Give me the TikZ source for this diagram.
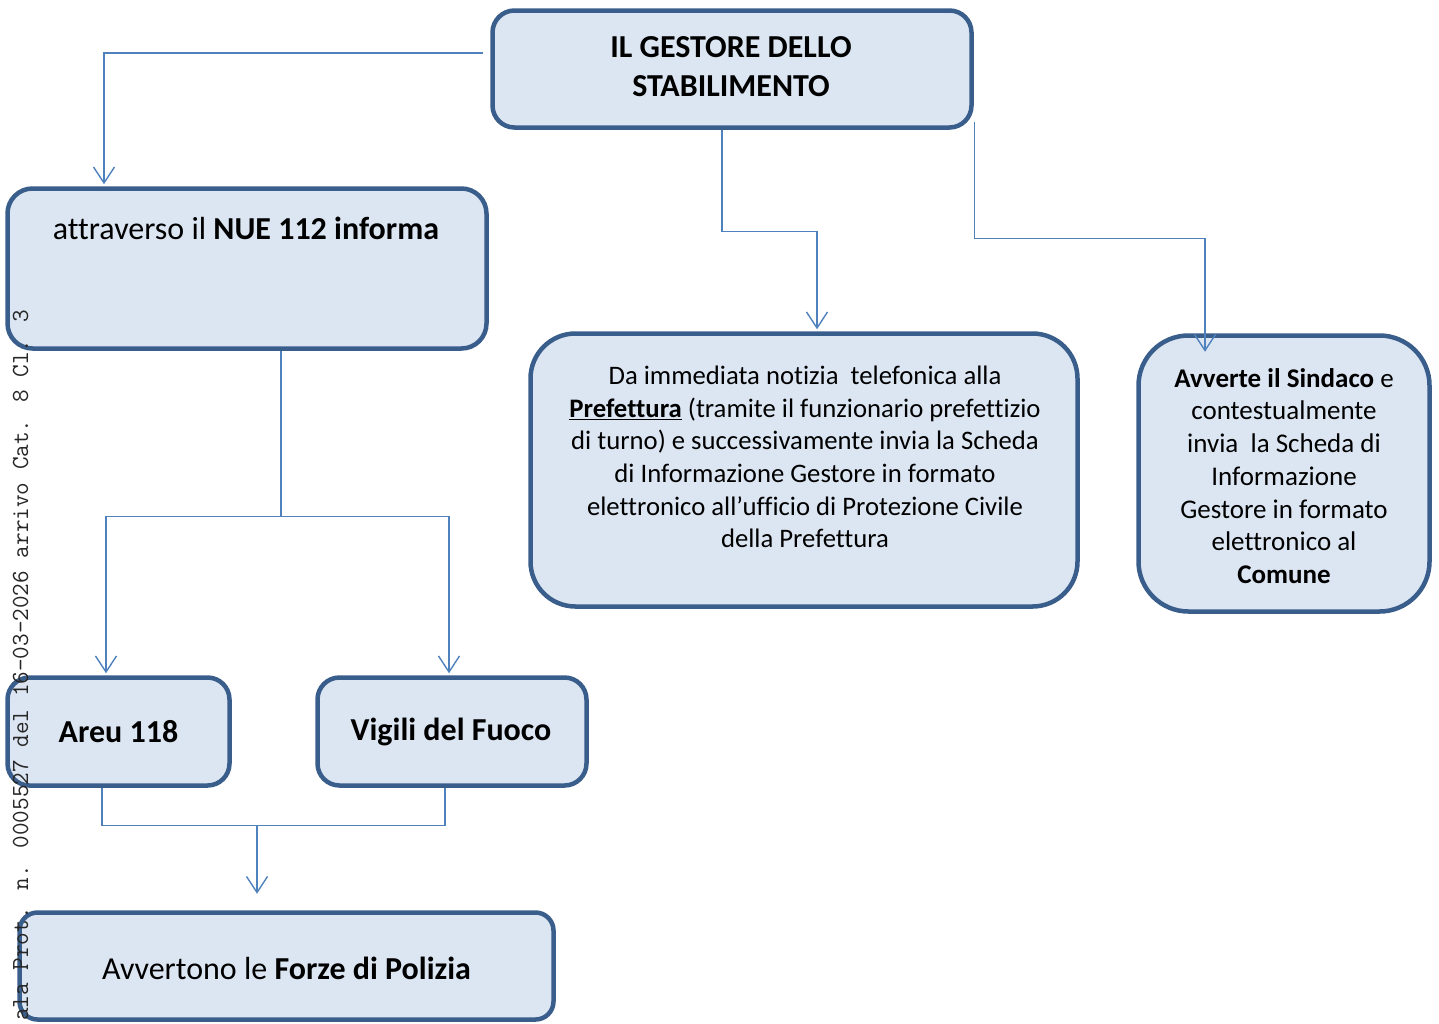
\documentclass[tikz,border=0pt]{standalone}
\usepackage{fontspec}
\setmainfont[Ligatures={NoCommon,TeX}]{Carlito}
\usetikzlibrary{arrows.meta}
\definecolor{boxline}{HTML}{3A5E8C}
\definecolor{boxfill}{HTML}{DCE6F2}
\definecolor{connline}{HTML}{4F81BD}
\tikzset{
  flowbox/.style={draw=boxline, fill=boxfill, line width=4.5pt, inner sep=0pt},
  conn/.style={draw=connline, line width=1.4pt},
  arr/.style={conn, -{Straight Barb[length=16pt,width=21pt,line width=1.4pt]}},
  txt/.style={inner sep=0pt, align=center, text=black},
}
\begin{document}
\begin{tikzpicture}[x=1pt,y=-1pt]
\useasboundingbox (0,0) rectangle (1439,1023);
% boxes
\node[flowbox, rounded corners=22pt, minimum width=479pt, minimum height=117pt] (top) at (732,69) {};
\node[flowbox, rounded corners=25pt, minimum width=479pt, minimum height=160pt] (nue) at (247,268.5) {};
\node[flowbox, rounded corners=45pt, minimum width=547pt, minimum height=273pt] (pref) at (804,470) {};
\node[flowbox, rounded corners=50pt, minimum width=291pt, minimum height=276pt] (sind) at (1284,473.5) {};
\node[flowbox, rounded corners=22pt, minimum width=222pt, minimum height=108pt] (areu) at (118.5,731.5) {};
\node[flowbox, rounded corners=22pt, minimum width=269pt, minimum height=108pt] (vig) at (452,731.5) {};
\node[flowbox, rounded corners=18pt, minimum width=534pt, minimum height=107pt] (forze) at (286.5,966) {};
% texts
\node[txt, font=\fontsize{32}{39}\selectfont\bfseries] (toptxt) at (731,67) {IL GESTORE DELLO\\STABILIMENTO};
\node[txt, font=\fontsize{32}{36}\selectfont] (nuetxt) at (246,228) {attraverso il \textbf{NUE 112 informa}};
\node[txt, font=\fontsize{26.7}{32.6}\selectfont] (preftxt) at (805,457) {Da immediata notizia\ \ telefonica alla\\
\underline{\textbf{Prefettura}} (tramite il funzionario prefettizio\\
di turno) e successivamente invia la Scheda\\
di Informazione Gestore in formato\\
elettronico all’ufficio di Protezione Civile\\
della Prefettura};
\node[txt, font=\fontsize{27}{32.7}\selectfont] (sindtxt) at (1284,476) {\textbf{Avverte il Sindaco} e\\
contestualmente\\
invia\ \ la Scheda di\\
Informazione\\
Gestore in formato\\
elettronico al\\
\textbf{Comune}};
\node[txt, font=\fontsize{32}{36}\selectfont\bfseries] (areutxt) at (118.5,732) {Areu 118};
\node[txt, font=\fontsize{32}{36}\selectfont\bfseries] (vigtxt) at (451,732) {Vigili del Fuoco};
\node[txt, font=\fontsize{32}{36}\selectfont] (forzetxt) at (286.5,968) {Avvertono le \textbf{Forze di Polizia}};
% connectors
\coordinate (c1) at (483,53);
\draw[arr] (c1) -| ([xshift=-143pt,yshift=2pt]nue.north);
\draw[arr] ([xshift=-10pt]top.south) -- ++(0,102) -| ([xshift=13pt,yshift=2pt]pref.north);
\draw[arr] ([xshift=0.5pt,yshift=8pt]top.south east) -- ++(0,116.5) -| ([xshift=-79pt,yshift=-18.5pt]sind.north);
\draw[conn] ([xshift=34pt]nue.south) -- ++(0,165.5) coordinate (j1);
\draw[arr] (j1) -| ([xshift=-12.5pt,yshift=2pt]areu.north);
\draw[arr] (j1) -| ([xshift=-3pt,yshift=2pt]vig.north);
\draw[conn] ([xshift=-16.5pt]areu.south) -- ++(0,37.5) coordinate (j2) -| ([xshift=-7pt]vig.south);
\draw[arr] ([xshift=-29.5pt]forze.north |- j2) -- ([xshift=-29.5pt,yshift=16.5pt]forze.north);
% stamp
\node[inner sep=0pt, rotate=90, anchor=base west, font=\ttfamily\fontsize{24.5}{28}\selectfont, text=black!85] (stamp) at (28,1021) {ala Prot. n. 0005527 del 16-03-2026 arrivo Cat. 8 Cl. 3};
\end{tikzpicture}
\end{document}
